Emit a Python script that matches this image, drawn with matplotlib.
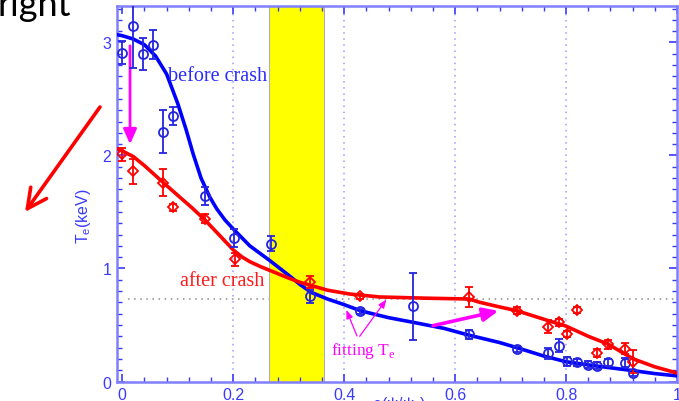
import matplotlib.pyplot as plt
from matplotlib.ticker import MultipleLocator

# measured Te profile before the crash (open circles)
rho_before = [0.0, 0.02, 0.037, 0.056, 0.074, 0.092, 0.149, 0.201, 0.269, 0.339,
              0.428, 0.524, 0.625, 0.711, 0.767, 0.787, 0.802, 0.82, 0.84, 0.856,
              0.876, 0.906, 0.921]
te_before = [2.91, 3.15, 2.90, 2.98, 2.21, 2.35, 1.64, 1.27, 1.22, 0.754,
             0.62, 0.666, 0.42, 0.288, 0.25, 0.317, 0.18, 0.17, 0.15, 0.14,
             0.17, 0.164, 0.075]
err_before = [0.10, 0.38, 0.14, 0.13, 0.19, 0.08, 0.08, 0.08, 0.066, 0.06,
              0.02, 0.295, 0.04, 0.03, 0.05, 0.055, 0.04, 0.03, 0.03, 0.03,
              0.03, 0.04, 0.03]

# measured Te profile after the crash (open diamonds)
rho_after = [0.0, 0.02, 0.074, 0.091, 0.149, 0.203, 0.339, 0.428, 0.625, 0.711,
             0.767, 0.787, 0.802, 0.82, 0.856, 0.876, 0.906, 0.921]
te_after = [2.01, 1.86, 1.76, 1.54, 1.44, 1.08, 0.88, 0.754, 0.745, 0.627,
            0.485, 0.524, 0.42, 0.633, 0.25, 0.33, 0.29, 0.175]
err_after = [0.06, 0.11, 0.12, 0.03, 0.04, 0.055, 0.05, 0.02, 0.088, 0.03,
             0.06, 0.03, 0.03, 0.03, 0.035, 0.04, 0.05, 0.10]

# fitted profiles
fit_rho_before = [-0.01, 0.0, 0.02, 0.04, 0.06, 0.08, 0.10, 0.115, 0.128, 0.142,
                  0.158, 0.17, 0.185, 0.20, 0.23, 0.266, 0.30, 0.32, 0.34, 0.37,
                  0.40, 0.43, 0.48, 0.524, 0.58, 0.625, 0.68, 0.711, 0.76, 0.80,
                  0.85, 0.921, 0.96, 1.0]
fit_te_before = [3.07, 3.06, 3.03, 2.98, 2.88, 2.72, 2.46, 2.23, 2.01, 1.80,
                 1.63, 1.53, 1.43, 1.35, 1.20, 1.07, 0.94, 0.86, 0.79, 0.73,
                 0.68, 0.625, 0.565, 0.524, 0.47, 0.41, 0.345, 0.30, 0.225, 0.175,
                 0.14, 0.096, 0.07, 0.05]
fit_rho_after = [-0.01, 0.0, 0.02, 0.04, 0.074, 0.104, 0.125, 0.149, 0.175, 0.20,
                 0.215, 0.23, 0.25, 0.266, 0.285, 0.30, 0.32, 0.34, 0.37, 0.41,
                 0.464, 0.55, 0.625, 0.645, 0.68, 0.711, 0.767, 0.80, 0.84, 0.876,
                 0.921, 0.96, 1.0]
fit_te_after = [2.06, 2.04, 1.99, 1.91, 1.76, 1.63, 1.54, 1.43, 1.295, 1.165,
                1.105, 1.06, 1.015, 0.983, 0.945, 0.915, 0.878, 0.85, 0.808, 0.774,
                0.748, 0.737, 0.73, 0.70, 0.66, 0.627, 0.54, 0.49, 0.40, 0.33,
                0.20, 0.13, 0.075]

band = (0.265, 0.364)
ref_level = 0.727
xticks = [0, 0.2, 0.4, 0.6, 0.8, 1.0]
xticklabels = ["0", "0.2", "0.4", "0.6", "0.8", "1"]
yticks = [0, 1, 2, 3]
yticklabels = ["0", "1", "2", "3"]

axis_blue = "#3a3aff"
spine_blue = "#7f7fff"
pt_blue = "#2424e0"
magenta = "#ff00ff"

fig = plt.figure(figsize=(6.79, 4.02), dpi=100)
ax = fig.add_axes([0.1719, 0.0485, 0.8252, 0.9333])

ax.set_xlim(-0.01, 1.0)
ax.set_ylim(0, 3.32)

# dotted grid
for gx in xticks[1:-1]:
    ax.axvline(gx, color="#9a9aff", ls=(0, (1, 3)), lw=1.1, zorder=0.2)
ax.plot([0.01, 1.0], [ref_level, ref_level], color="#8c8c8c", ls=(0, (1, 3)),
        lw=1.1, zorder=0.2)

ax.axvspan(band[0], band[1], facecolor="#ffff00", edgecolor="#b0b0b0", lw=0.8,
           zorder=0.5)

# fits
ax.plot(fit_rho_before, fit_te_before, color="#0000ff", lw=2.6, zorder=3,
        solid_capstyle="round", solid_joinstyle="round")
ax.plot(fit_rho_after, fit_te_after, color="#ff0000", lw=2.6, zorder=3,
        solid_capstyle="round", solid_joinstyle="round")

# data
ax.errorbar(rho_before, te_before, yerr=err_before, fmt="o", ms=6.5, mfc="none",
            mec=pt_blue, mew=1.3, ecolor=pt_blue, elinewidth=1.3, capsize=3,
            capthick=1.3, zorder=4)
ax.errorbar(rho_after, te_after, yerr=err_after, fmt="D", ms=5.2, mfc="none",
            mec="#ff0000", mew=1.3, ecolor="#ff0000", elinewidth=1.3, capsize=3,
            capthick=1.3, zorder=4)

# labels on the curves
ax.text(0.082, 2.71, "before crash", color="#2a2aff", fontsize=14.5,
        family="Liberation Serif", va="center", ha="left", zorder=5)
ax.text(0.104, 0.89, "after crash", color="#ff1a1a", fontsize=14.5,
        family="Liberation Serif", va="center", ha="left", zorder=5)
ax.text(0.377, 0.28, "fitting T$_{\\mathregular{e}}$", color=magenta, fontsize=12.5,
        family="Liberation Serif", va="center", ha="left", zorder=5)

# pointers to the fits
ax.annotate("", xy=(0.402, 0.655), xytext=(0.425, 0.38),
            arrowprops=dict(arrowstyle="-|>,head_length=0.5,head_width=0.2",
                            color=magenta, lw=0.9))
ax.annotate("", xy=(0.479, 0.745), xytext=(0.425, 0.38),
            arrowprops=dict(arrowstyle="-|>,head_length=0.5,head_width=0.2",
                            color=magenta, lw=0.9))
ax.annotate("", xy=(0.678, 0.625), xytext=(0.56, 0.494),
            arrowprops=dict(arrowstyle="-|>,head_length=0.9,head_width=0.4",
                            color=magenta, lw=2.6, shrinkA=0, shrinkB=0))
ax.annotate("", xy=(0.014, 2.10), xytext=(0.014, 2.97),
            arrowprops=dict(arrowstyle="-|>,head_length=0.9,head_width=0.4",
                            color=magenta, lw=2.0, shrinkA=0, shrinkB=0))

# axes styling
ax.set_xticks(xticks)
ax.set_xticklabels(xticklabels)
ax.set_yticks(yticks)
ax.set_yticklabels(yticklabels)
ax.xaxis.set_minor_locator(MultipleLocator(0.04))
ax.yaxis.set_minor_locator(MultipleLocator(0.1))
ax.tick_params(which="both", direction="in", top=True, right=True,
               colors=axis_blue, labelcolor=axis_blue, labelsize=11.5)
ax.tick_params(which="major", length=6, width=1.2)
ax.tick_params(which="minor", length=3.5, width=1.0)
ax.tick_params(axis="x", pad=4)
ax.tick_params(axis="y", pad=4)
for lab in ax.get_xticklabels() + ax.get_yticklabels():
    lab.set_family("Liberation Sans")
for sp in ax.spines.values():
    sp.set_color(spine_blue)
    sp.set_linewidth(1.8)

ax.set_ylabel("T$_{\\mathregular{e}}$(keV)", color=axis_blue, fontsize=11.5,
              family="Liberation Sans")
ax.yaxis.set_label_coords(-0.042, 0.444)
fig.text(0.588, 0.018, "\u03c1(\u03c8/\u03c8$_{\\mathregular{c}}$)", color=axis_blue,
         fontsize=11.5, family="Liberation Sans", ha="center", va="top")

# slide leftovers outside the plot
fig.text(-0.004, 0.96, "right", fontsize=26, family="Lato", color="black",
         ha="left", va="baseline")
ax.annotate("", xy=(25, 189), xycoords="figure pixels", xytext=(100, 294),
            textcoords="figure pixels",
            arrowprops=dict(arrowstyle="->,head_length=1.4,head_width=0.7",
                            color="#ff0000", lw=2.6, shrinkA=0, shrinkB=0))

fig.savefig("out.png", dpi=100)
